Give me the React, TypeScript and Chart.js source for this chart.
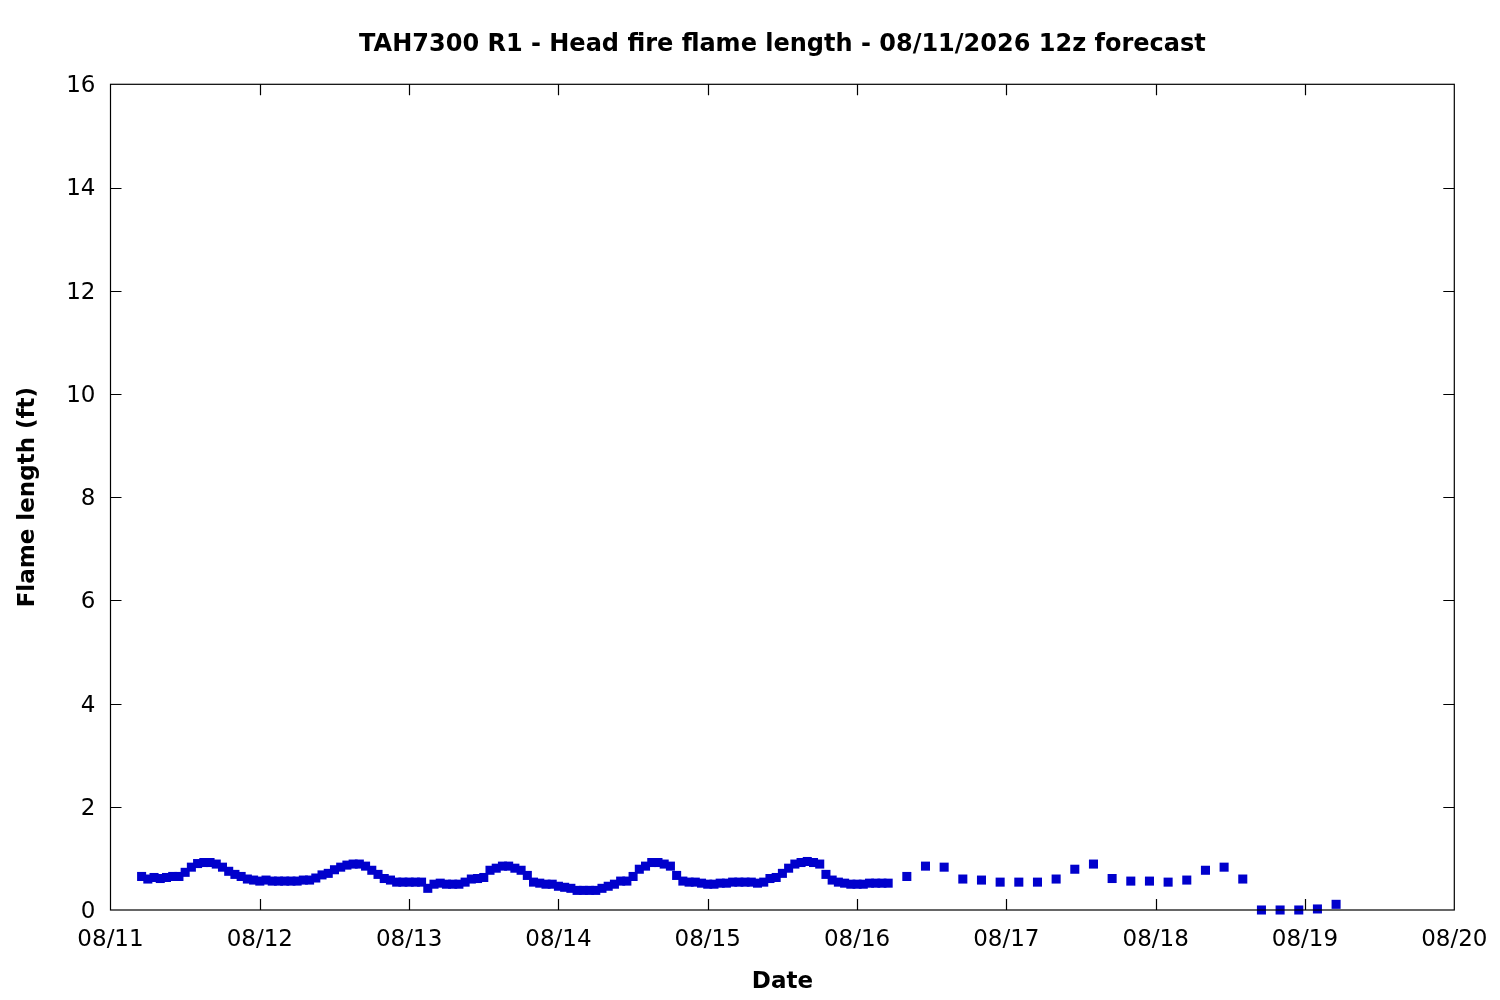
import React, { useEffect, useRef } from "react";
import { Chart, registerables } from "chart.js";

Chart.register(...registerables);

// ---- data ----
const titleText = "TAH7300 R1 - Head fire flame length - 08/11/2026 12z forecast";
const xAxisTitle = "Date";
const yAxisTitle = "Flame length (ft)";

// tick labels: one per day, starting 08/11 00:00 (x axis unit = hours since 08/11 00:00)
const dateLabels = ["08/11", "08/12", "08/13", "08/14", "08/15", "08/16", "08/17", "08/18", "08/19", "08/20"];
const yTickValues = [0, 2, 4, 6, 8, 10, 12, 14, 16];

// hourly values, first one at 08/11 05:00
const hourlyStartHour = 5;
const hourlyStepHours = 1;
const hourlyValues = [
  0.65, 0.6, 0.63, 0.61, 0.63, 0.65, 0.65, 0.73, 0.83, 0.9,
  0.92, 0.92, 0.89, 0.83, 0.75, 0.69, 0.65, 0.6, 0.58, 0.56,
  0.58, 0.56, 0.56, 0.56, 0.56, 0.56, 0.58, 0.58, 0.62, 0.68,
  0.71, 0.78, 0.83, 0.87, 0.89, 0.89, 0.85, 0.77, 0.69, 0.61,
  0.58, 0.54, 0.54, 0.54, 0.54, 0.54, 0.42, 0.5, 0.52, 0.5,
  0.5, 0.5, 0.54, 0.6, 0.61, 0.63, 0.77, 0.81, 0.85, 0.85,
  0.81, 0.77, 0.67, 0.54, 0.52, 0.5, 0.5, 0.46, 0.44, 0.42,
  0.38, 0.38, 0.38, 0.38, 0.42, 0.46, 0.5, 0.56, 0.56, 0.65,
  0.79, 0.85, 0.92, 0.92, 0.89, 0.85, 0.67, 0.56, 0.54, 0.54,
  0.52, 0.5, 0.5, 0.52, 0.52, 0.54, 0.54, 0.54, 0.54, 0.52,
  0.54, 0.61, 0.63, 0.71, 0.81, 0.89, 0.92, 0.94, 0.92, 0.89,
  0.69, 0.58, 0.54, 0.52, 0.5, 0.5, 0.5, 0.52, 0.52, 0.52,
  0.52,
];

// 3-hourly values, first one at 08/16 08:00
const threeHourlyStartHour = 128;
const threeHourlyStepHours = 3;
const threeHourlyValues = [
  0.65, 0.85, 0.83, 0.6, 0.58, 0.54, 0.54, 0.54, 0.6, 0.79,
  0.89, 0.61, 0.56, 0.56, 0.54, 0.58, 0.77, 0.83, 0.6, 0,
  0, 0, 0.02, 0.11,
];

const FONT = "'DejaVu Sans', 'Liberation Sans', sans-serif";
const MARK = "#0000cc";

const framePlugin = {
  id: "gnuFrame",
  afterDatasetsDraw(chart: any) {
    const { ctx, chartArea: a, scales } = chart;
    const L = 11;
    ctx.save();
    ctx.strokeStyle = "#000";
    ctx.lineWidth = 1.2;
    ctx.beginPath();
    for (const t of scales.x.ticks) {
      const px = Math.round(scales.x.getPixelForValue(t.value)) + 0.5;
      if (px <= a.left + 1 || px >= a.right - 1) continue;
      ctx.moveTo(px, a.bottom);
      ctx.lineTo(px, a.bottom - L);
      ctx.moveTo(px, a.top);
      ctx.lineTo(px, a.top + L);
    }
    for (const t of scales.y.ticks) {
      const py = Math.round(scales.y.getPixelForValue(t.value)) + 0.5;
      if (py <= a.top + 1 || py >= a.bottom - 1) continue;
      ctx.moveTo(a.left, py);
      ctx.lineTo(a.left + L, py);
      ctx.moveTo(a.right, py);
      ctx.lineTo(a.right - L, py);
    }
    ctx.stroke();
    ctx.strokeRect(a.left, a.top, a.right - a.left, a.bottom - a.top);
    ctx.restore();
  },
};

export default function App() {
  const ref = useRef<HTMLCanvasElement | null>(null);

  useEffect(() => {
    if (!ref.current) return;
    const hourlyPts = hourlyValues.map((v, i) => ({ x: hourlyStartHour + i * hourlyStepHours, y: v }));
    const threePts = threeHourlyValues.map((v, i) => ({ x: threeHourlyStartHour + i * threeHourlyStepHours, y: v }));
    const ds = (data: any[]) => ({
      data,
      showLine: false,
      pointStyle: "rect" as const,
      pointRadius: 6.4,
      pointBorderWidth: 0,
      pointBackgroundColor: MARK,
      pointBorderColor: MARK,
      clip: false as const,
    });
    const chart = new Chart(ref.current, {
      type: "scatter",
      data: { datasets: [ds(hourlyPts), ds(threePts)] },
      options: {
        animation: false,
        responsive: false,
        devicePixelRatio: 1,
        layout: { padding: { left: 0, right: 45.7, top: 0, bottom: 0 } },
        plugins: {
          legend: { display: false },
          tooltip: { enabled: false },
          title: {
            display: true,
            text: titleText,
            color: "#000",
            fullSize: false,
            font: { family: FONT, size: 24, weight: "bold", lineHeight: 1.2 },
            padding: { top: 30.3, bottom: 25.2 },
          },
        },
        scales: {
          x: {
            type: "linear",
            min: 0,
            max: (dateLabels.length - 1) * 24,
            afterBuildTicks: (scale: any) => {
              scale.ticks = dateLabels.map((_, i) => ({ value: i * 24 }));
            },
            afterFit: (scale: any) => {
              scale.height = 90;
              scale.paddingLeft = 0;
              scale.paddingRight = 0;
            },
            grid: { display: false, drawTicks: false },
            border: { display: false },
            ticks: {
              padding: 16.5,
              color: "#000",
              maxRotation: 0,
              autoSkip: false,
              font: { family: FONT, size: 23, lineHeight: 1.2 },
              callback: (v: any) => dateLabels[Math.round(Number(v) / 24)] ?? "",
            },
            title: {
              display: true,
              text: xAxisTitle,
              color: "#000",
              font: { family: FONT, size: 23, weight: "bold", lineHeight: 1.2 },
              padding: { top: 4, bottom: 4 },
            },
          },
          y: {
            type: "linear",
            min: yTickValues[0],
            max: yTickValues[yTickValues.length - 1],
            afterBuildTicks: (scale: any) => {
              scale.ticks = yTickValues.map((v) => ({ value: v }));
            },
            afterFit: (scale: any) => {
              scale.width = 110.5;
            },
            grid: { display: false, drawTicks: false },
            border: { display: false },
            ticks: {
              padding: 15,
              labelOffset: 2,
              color: "#000",
              autoSkip: false,
              font: { family: FONT, size: 23, lineHeight: 1.2 },
              callback: (v: any) => String(v),
            },
            title: {
              display: true,
              text: yAxisTitle,
              color: "#000",
              font: { family: FONT, size: 23, weight: "bold", lineHeight: 1.2 },
              padding: { top: 14, bottom: 14 },
            },
          },
        },
      },
      plugins: [framePlugin],
    });
    return () => chart.destroy();
  }, []);

  return (
    <div style={{ position: "absolute", left: 0, top: 0, width: 1500, height: 1000, background: "#fff" }}>
      <canvas ref={ref} width={1500} height={1000} style={{ display: "block", width: 1500, height: 1000 }} />
    </div>
  );
}
